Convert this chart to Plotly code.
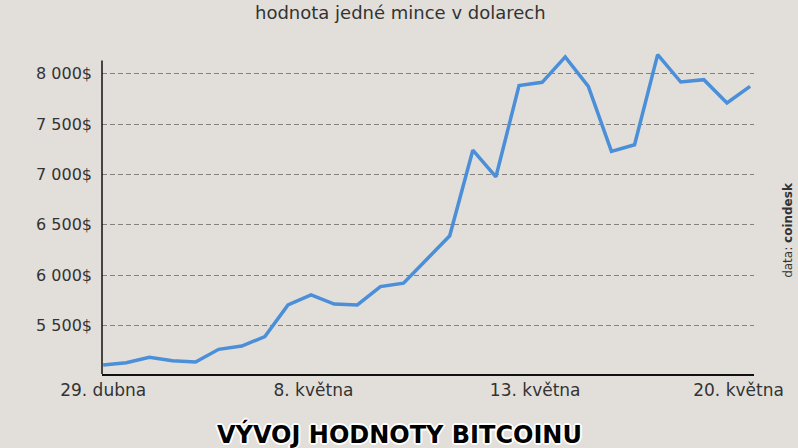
import plotly.graph_objects as go

# --- data ---
point_index = list(range(29))
price_usd = [5107, 5130, 5184, 5150, 5137, 5263, 5296, 5389, 5704, 5803,
             5712, 5704, 5886, 5920, 6155, 6390, 7240, 6976, 7881, 7914,
             8166, 7874, 7228, 7294, 8189, 7917, 7940, 7709, 7874]
x_tick_pos = [0, 9.1, 18.7, 27.5]
x_tick_labels = ["29. dubna", "8. května", "13. května", "20. května"]
y_tick_vals = [5500, 6000, 6500, 7000, 7500, 8000]
y_tick_labels = ["5 500$", "6 000$", "6 500$", "7 000$", "7 500$", "8 000$"]

FONT = "DejaVu Sans"
TXT = "#333333"
W, H = 798, 448
ML, MR, MT, MB = 102, 44, 53, 74
PW = W - ML - MR

fig = go.Figure()
fig.add_trace(go.Scatter(
    x=point_index, y=price_usd, mode="lines",
    line=dict(color="#4a8fd8", width=3.5),
    hoverinfo="skip", showlegend=False,
))

outline = ", ".join(f"{dx}px {dy}px 0 #ffffff" for dx, dy in
                    [(1, 1), (-1, -1), (1, -1), (-1, 1), (2, 0), (-2, 0), (0, 2), (0, -2)])

fig.update_layout(
    width=W, height=H,
    margin=dict(l=ML, r=MR, t=MT, b=MB),
    paper_bgcolor="#e2dfdb",
    plot_bgcolor="rgba(0,0,0,0)",
    font=dict(family=FONT, color=TXT, size=17),
    xaxis=dict(
        range=[-0.05, 28.17],
        tickvals=x_tick_pos, ticktext=x_tick_labels,
        showgrid=False, zeroline=False,
        showline=True, linecolor="#111111", linewidth=1.5,
        ticks="", tickfont=dict(size=17, color=TXT, family=FONT),
    ),
    yaxis=dict(
        range=[5018, 8205],
        tickvals=y_tick_vals, ticktext=y_tick_labels,
        showgrid=True, gridcolor="#85817d", griddash="5px,3px", gridwidth=1,
        zeroline=False, showline=False,
        ticks="", ticklabelstandoff=9,
        tickfont=dict(size=16, color=TXT, family=FONT),
    ),
    shapes=[dict(type="line", xref="paper", yref="y", x0=0, x1=0,
                 y0=5018, y1=8130, line=dict(color="#111111", width=1.5))],
    annotations=[
        dict(text="hodnota jedné mince v dolarech", xref="paper", yref="paper",
             x=(400 - ML) / PW, y=1, yshift=41, showarrow=False,
             font=dict(size=18, color=TXT, family=FONT), xanchor="center", yanchor="middle"),
        dict(text="VÝVOJ HODNOTY BITCOINU", xref="paper", yref="paper",
             x=(399 - ML) / PW, y=0, yshift=-60, showarrow=False,
             font=dict(size=24, color="#000000", family=FONT, weight="bold", shadow=outline),
             xanchor="center", yanchor="middle"),
        dict(text="data: <b>coindesk</b>", xref="paper", yref="paper",
             x=1, xshift=34, y=0.449, showarrow=False, textangle=-90,
             font=dict(size=12, color=TXT, family=FONT),
             xanchor="center", yanchor="middle"),
    ],
)

fig.write_html("out.html", config={"displayModeBar": False},
               post_script="document.body.style.margin='0';")
